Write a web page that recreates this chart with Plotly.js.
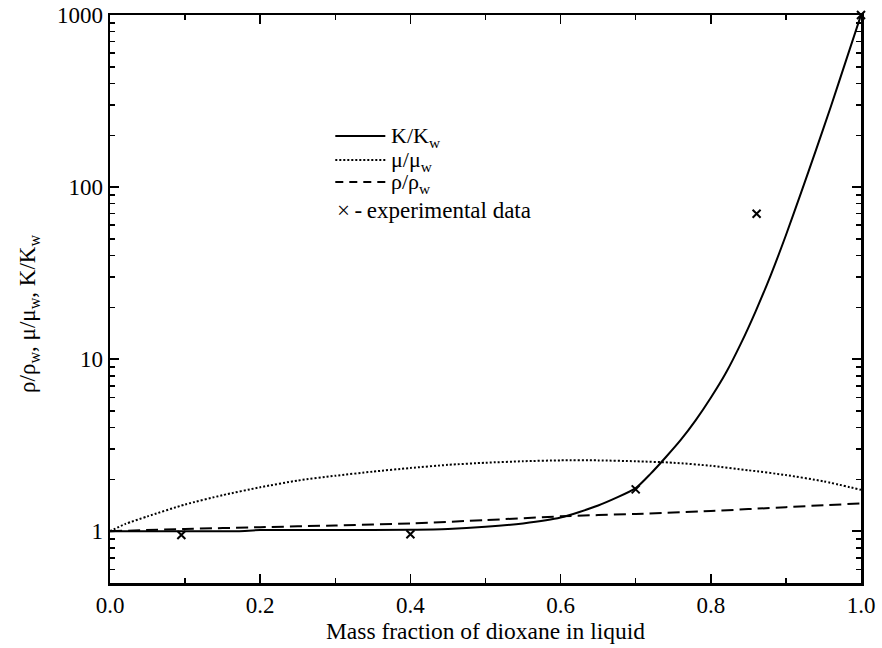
<!DOCTYPE html>
<html>
<head>
<meta charset="utf-8">
<script src="https://cdn.plot.ly/plotly-3.0.1.min.js"></script>
<style>html,body{margin:0;padding:0;background:#fff;}#chart{width:882px;height:648px;}</style>
</head>
<body>
<div id="chart"></div>
<script>
// K/Kw curve
const kX = [0, 0.1, 0.17, 0.2, 0.3, 0.4, 0.45, 0.5, 0.55, 0.6, 0.65, 0.7, 0.72, 0.74, 0.76, 0.78, 0.80, 0.82, 0.84, 0.86, 0.88, 0.90, 0.92, 0.94, 0.96, 0.98, 1.0];
const kY = [1.0, 1.0, 1.0, 1.015, 1.015, 1.02, 1.03, 1.06, 1.11, 1.2, 1.41, 1.78, 2.16, 2.69, 3.39, 4.42, 5.96, 8.3, 12.3, 19.1, 30.9, 52.5, 92.3, 164, 295, 543, 1000];
// mu/mu_w curve
const muX = [0, 0.02, 0.05, 0.1, 0.15, 0.2, 0.25, 0.3, 0.35, 0.4, 0.45, 0.5, 0.55, 0.6, 0.65, 0.7, 0.75, 0.8, 0.85, 0.9, 0.95, 1.0];
const muY = [1.0, 1.1, 1.22, 1.43, 1.62, 1.8, 1.97, 2.1, 2.22, 2.33, 2.43, 2.5, 2.55, 2.58, 2.58, 2.55, 2.5, 2.4, 2.26, 2.12, 1.95, 1.74];
// rho/rho_w curve
const rhoX = [0, 0.1, 0.2, 0.3, 0.4, 0.5, 0.6, 0.7, 0.8, 0.9, 1.0];
const rhoY = [1.0, 1.03, 1.055, 1.08, 1.11, 1.16, 1.22, 1.26, 1.31, 1.38, 1.45];
// experimental data
const expX = [0.095, 0.4, 0.70, 0.861, 1.0];
const expY = [0.95, 0.96, 1.75, 70, 1000];

const xTickVals = [0, 0.2, 0.4, 0.6, 0.8, 1.0];
const xTickText = ['0.0', '0.2', '0.4', '0.6', '0.8', '1.0'];
const yTickVals = [1, 10, 100, 1000];
const yTickText = ['1', '10', '100', '1000'];

// legend entries (drawn as paper-space shapes + text)
const legendNames = ['K/K<sub>w</sub>', 'μ/μ<sub>w</sub>', 'ρ/ρ<sub>w</sub>'];
const legendDash = ['solid', '2px,2px', '8px,6px'];
const expLabel = '×\u2009-\u2009experimental data';
const yTitle = 'ρ/ρ<sub>w</sub>, μ/μ<sub>w</sub>, K/K<sub>w</sub>';
const xTitle = 'Mass fraction of dioxane in liquid';

const traces = [
  {x: kX, y: kY, mode: 'lines', name: 'K/K<sub>w</sub>', line: {color: '#000', width: 2, shape: 'spline', smoothing: 0.6}},
  {x: muX, y: muY, mode: 'lines', name: 'μ/μ<sub>w</sub>', line: {color: '#000', width: 2, dash: '2px,2px', shape: 'spline', smoothing: 0.6}},
  {x: rhoX, y: rhoY, mode: 'lines', name: 'ρ/ρ<sub>w</sub>', line: {color: '#000', width: 2, dash: '12px,6px', shape: 'spline', smoothing: 0.6}},
  {x: expX, y: expY, mode: 'markers', name: 'experimental data',
   marker: {symbol: 'x-thin', size: 8, color: '#000', line: {color: '#000', width: 2}}, cliponaxis: false}
];

// legend geometry in paper coordinates
const legX0 = 0.300, legX1 = 0.3666, legTextX = 0.371;
const legRowsY = [0.7869, 0.7446, 0.7058];
const shapes = legendNames.map((n, i) => ({
  type: 'line', xref: 'paper', yref: 'paper', x0: legX0, x1: legX1, y0: legRowsY[i], y1: legRowsY[i],
  line: {color: '#000', width: 2, dash: legendDash[i]}
}));
const annotations = legendNames.map((n, i) => ({
  xref: 'paper', yref: 'paper', x: legTextX, y: legRowsY[i] - 0.002, xanchor: 'left', yanchor: 'middle',
  showarrow: false, text: n, font: {family: 'Liberation Serif', size: 22, color: '#000'}
}));
annotations.push({xref: 'paper', yref: 'paper', x: 0.300, y: 0.6565, xanchor: 'left', yanchor: 'middle', showarrow: false,
  text: expLabel, font: {family: 'Liberation Serif', size: 23, color: '#000'}});
annotations.push({xref: 'paper', yref: 'paper', x: -0.1071, y: 0.473, xanchor: 'center', yanchor: 'middle', showarrow: false,
  textangle: -90, text: yTitle, font: {family: 'Liberation Serif', size: 23, color: '#000'}});

const layout = {
  width: 882, height: 648,
  margin: {l: 109.5, r: 21, t: 15, b: 65.3},
  paper_bgcolor: '#fff', plot_bgcolor: '#fff',
  showlegend: false,
  xaxis: {
    range: [0, 1], tickvals: xTickVals, ticktext: xTickText,
    ticks: 'inside', ticklen: 9, tickwidth: 1.5, tickcolor: '#000',
    showline: true, linewidth: 2.5, linecolor: '#000', mirror: 'ticks',
    showgrid: false, zeroline: false,
    minor: {dtick: 0.1, ticks: 'inside', ticklen: 5, tickwidth: 1.5, tickcolor: '#000', showgrid: false},
    tickfont: {family: 'Liberation Serif', size: 23, color: '#000'},
    title: {text: xTitle, font: {family: 'Liberation Serif', size: 23.5, color: '#000'}, standoff: 0}
  },
  yaxis: {
    type: 'log', range: [Math.log10(0.5), 3], tickvals: yTickVals, ticktext: yTickText,
    ticks: 'inside', ticklen: 9, tickwidth: 1.5, tickcolor: '#000',
    showline: true, linewidth: 2.5, linecolor: '#000', mirror: 'ticks',
    showgrid: false, zeroline: false,
    minor: {dtick: 'D1', ticks: 'inside', ticklen: 5, tickwidth: 1.5, tickcolor: '#000', showgrid: false},
    tickfont: {family: 'Liberation Serif', size: 23, color: '#000'}
  },
  shapes: shapes,
  annotations: annotations
};

Plotly.newPlot('chart', traces, layout, {displayModeBar: false, staticPlot: true});
</script>
</body>
</html>
